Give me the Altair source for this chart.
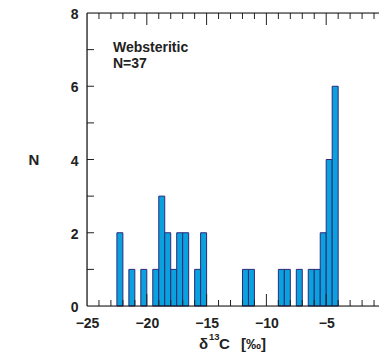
import altair as alt
import pandas as pd

# histogram bins (0.5 permil wide), start value and count
bin_start = [-22.5, -21.5, -20.5, -19.5, -19.0, -18.5, -18.0, -17.5, -17.0, -16.0, -15.5,
             -12.0, -11.5, -9.0, -8.5, -7.5, -6.5, -6.0, -5.5, -5.0, -4.5]
counts = [2, 1, 1, 1, 3, 2, 1, 2, 2, 1, 2,
          1, 1, 1, 1, 1, 1, 1, 2, 4, 6]
bin_width = 0.5

x_labels = [-25, -20, -15, -10, -5, 0]
x_minor = [v for v in range(-24, 0) if v % 5 != 0]
x_major = [-20, -15, -10, -5]
y_labels = [0, 2, 4, 6, 8]
y_ticks = [1, 2, 3, 4, 5, 6, 7]

PW, H = 299, 293      # plot frame size
VW = 292              # view width kept inside the page (right edge of frame falls at page edge)
FONT = "Liberation Sans"
INK = "#222"

bars_df = pd.DataFrame({"x": bin_start, "x2": [b + bin_width for b in bin_start],
                        "n": counts, "zero": [0] * len(counts)})

xs = alt.Scale(domain=[-25, 0], range=[0, PW], nice=False, zero=False)
ys = alt.Scale(domain=[0, 8], nice=False)

bars = alt.Chart(bars_df).mark_bar(
    fill="#0aa2de", stroke="#2e2a78", strokeWidth=1, opacity=1
).encode(
    x=alt.X("x:Q", scale=xs, axis=alt.Axis(
        values=x_labels, format="d", ticks=False, domain=False, grid=False,
        labelFont=FONT, labelFontSize=14, labelFontWeight="bold", labelColor=INK,
        labelPadding=10, labelFlush=False, title=None)),
    x2="x2:Q",
    y=alt.Y("n:Q", scale=ys, axis=alt.Axis(
        values=y_labels, ticks=False, domain=False, grid=False,
        labelFont=FONT, labelFontSize=14, labelFontWeight="bold", labelColor=INK,
        labelPadding=9, labelOffset=1.5, title=None)),
    y2="zero:Q",
)

minor_df = pd.DataFrame({"t": x_minor})
major_df = pd.DataFrame({"t": x_major})
ytick_df = pd.DataFrame({"t": y_ticks})

def xticks(df, length):
    top = alt.Chart(df).mark_rule(color=INK, strokeWidth=1).encode(
        x=alt.X("t:Q", scale=xs), y=alt.value(0), y2=alt.value(length))
    bot = alt.Chart(df).mark_rule(color=INK, strokeWidth=1).encode(
        x=alt.X("t:Q", scale=xs), y=alt.value(H), y2=alt.value(H - length))
    return top + bot

yl = alt.Chart(ytick_df).mark_rule(color=INK, strokeWidth=1).encode(
    y=alt.Y("t:Q", scale=ys), x=alt.value(0), x2=alt.value(7))
yr = alt.Chart(ytick_df).mark_rule(color=INK, strokeWidth=1).encode(
    y=alt.Y("t:Q", scale=ys), x=alt.value(PW), x2=alt.value(PW - 7))

frame = alt.layer(
    alt.Chart().mark_rule(color="#111", strokeWidth=1.2).encode(
        x=alt.value(0), x2=alt.value(PW), y=alt.value(0)),
    alt.Chart().mark_rule(color="#111", strokeWidth=1.2).encode(
        x=alt.value(0), x2=alt.value(PW), y=alt.value(H)),
    alt.Chart().mark_rule(color="#111", strokeWidth=1.2).encode(
        x=alt.value(0), y=alt.value(0), y2=alt.value(H)),
    alt.Chart().mark_rule(color="#111", strokeWidth=1.2).encode(
        x=alt.value(PW), y=alt.value(0), y2=alt.value(H)),
)

labels_df = pd.DataFrame({"txt": ["Websteritic", "N=37"], "yy": [39, 55]})
labels = alt.Chart(labels_df).mark_text(
    align="left", baseline="alphabetic", font=FONT, fontSize=14, fontWeight="bold", color=INK
).encode(x=alt.value(26), y=alt.Y("yy:Q", scale=None), text="txt:N")

ntitle = alt.Chart(pd.DataFrame({"txt": ["N"]})).mark_text(
    align="center", baseline="middle", font=FONT, fontSize=15, fontWeight="bold", color=INK
).encode(x=alt.value(-53), y=alt.value(147), text="txt:N")

# x-axis title: δ, superscript 13, C  [‰]
TB = H + 43
def ttext(s, x, y, size):
    return alt.Chart(pd.DataFrame({"txt": [s]})).mark_text(
        align="left", baseline="alphabetic", font=FONT, fontSize=size,
        fontWeight="bold", color=INK
    ).encode(x=alt.value(x), y=alt.value(y), text="txt:N")

xtitle = alt.layer(
    ttext("δ", 112, TB, 15),
    ttext("13", 122, TB - 9, 9.5),
    ttext("C", 132, TB, 15),
    ttext("[‰]", 154, TB, 15),
)

chart = alt.layer(
    bars, xticks(minor_df, 6), xticks(major_df, 12), yl, yr, frame, labels, ntitle, xtitle
).properties(
    width=VW, height=H,
    autosize=alt.AutoSizeParams(type="none"),
    padding={"left": 79, "top": 5, "right": 0, "bottom": 46},
).configure_view(stroke=None).configure(background="white")

chart.save("out.html", embed_options={"renderer": "svg", "actions": False})
